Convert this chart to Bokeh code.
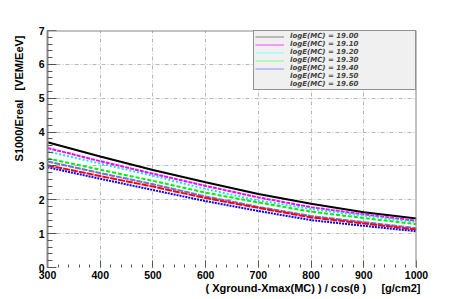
from bokeh.plotting import figure
from bokeh.models import FixedTicker, Legend, LegendItem, Range1d, Span, Title
from bokeh.embed import file_html
from bokeh.resources import INLINE

NB = "\u00a0"

# ---- data ----
xvals = [300, 400, 500, 600, 700, 800, 900, 1000]
s_1900 = [3.70, 3.28, 2.88, 2.52, 2.17, 1.88, 1.63, 1.45]
s_1910 = [3.53, 3.14, 2.77, 2.41, 2.07, 1.78, 1.57, 1.38]
s_1920 = [3.43, 3.07, 2.71, 2.32, 1.98, 1.73, 1.53, 1.34]
s_1930 = [3.22, 2.89, 2.56, 2.21, 1.92, 1.65, 1.46, 1.28]
s_1940 = [3.13, 2.79, 2.46, 2.10, 1.79, 1.52, 1.34, 1.16]
s_1950 = [3.02, 2.70, 2.39, 2.05, 1.76, 1.48, 1.30, 1.12]
s_1960 = [2.96, 2.62, 2.29, 1.96, 1.67, 1.40, 1.23, 1.07]
energies = ["19.00", "19.10", "19.20", "19.30", "19.40", "19.50", "19.60"]
x_ticks = [300, 400, 500, 600, 700, 800, 900, 1000]
y_ticks = [0, 1, 2, 3, 4, 5, 6, 7]
x_title = "( Xground-Xmax(MC) ) / cos(\u03b8 )" + NB * 5 + "[g/cm2]"
y_title = "S1000/Ereal" + NB * 3 + "[VEM/EeV]"

series = [s_1900, s_1910, s_1920, s_1930, s_1940, s_1950, s_1960]
colors = ["#000000", "#ff00ff", "#00e8e8", "#00ee00", "#6f6fd8", "#ff0000", "#0000ff"]
dashes = ["solid", "4 1", "2 2", "4 2", "6 1", "7 1", "2 1"]
legend_colors = ["#808080", "#ff40ff", "#80ffff", "#80ff80", "#9090ff", None, None]

FONT = "Liberation Sans"

p = figure(width=463, height=299, output_backend="svg", toolbar_location=None,
           x_range=Range1d(x_ticks[0], x_ticks[-1]), y_range=Range1d(y_ticks[0], y_ticks[-1]),
           min_border_left=46, min_border_right=47, min_border_top=30, min_border_bottom=32)
p.background_fill_color = "white"
p.border_fill_color = "white"
p.outline_line_color = None

# grid
for g in (p.xgrid, p.ygrid):
    g.grid_line_color = "#b8b8b8"
    g.grid_line_dash = "4 2 1 2"
    g.grid_line_width = 1
p.xgrid.ticker = FixedTicker(ticks=x_ticks)
p.ygrid.ticker = FixedTicker(ticks=y_ticks)

# frame top / right borders
p.add_layout(Span(location=y_ticks[-1], dimension="width", line_color="#888888", line_width=2))
p.add_layout(Span(location=x_ticks[-1], dimension="height", line_color="#888888", line_width=2))

# axes
xa = p.xaxis[0]
ya = p.yaxis[0]
xa.ticker = FixedTicker(ticks=x_ticks, minor_ticks=list(range(300, 1001, 20)))
ya.ticker = FixedTicker(ticks=y_ticks, minor_ticks=[i / 5 for i in range(0, 36)])
for ax in (xa, ya):
    ax.major_tick_out = 0
    ax.minor_tick_out = 0
    ax.major_label_text_font = FONT
    ax.major_label_text_font_style = "bold"
    ax.major_label_text_font_size = "10.5px"
    ax.major_label_text_color = "black"
    ax.major_tick_line_color = "#555555"
    ax.minor_tick_line_color = "#555555"
xa.major_tick_in = 7
xa.minor_tick_in = 3
ya.major_tick_in = 9
ya.minor_tick_in = 5
xa.axis_line_color = None
ya.axis_line_color = "#888888"
ya.axis_line_width = 2
xa.major_label_standoff = 3
ya.major_label_standoff = 3

# axis titles, right/top aligned like ROOT
tx = Title(text=x_title, align="right", text_font=FONT, text_font_style="bold",
           text_font_size="11px", text_color="black", standoff=-3, offset=-4)
ty = Title(text=y_title, align="right", text_font=FONT, text_font_style="bold",
           text_font_size="11px", text_color="black", standoff=21, offset=5)
p.add_layout(tx, "below")
p.add_layout(ty, "left")

# curves
for ys, c, d in zip(series, colors, dashes):
    p.line(xvals, ys, line_color=c, line_width=2, line_dash=d)

# legend (thin samples; last two entries have no visible sample)
items = []
for e, lc in zip(energies, legend_colors):
    r = p.line([-100, -50], [-10, -10], line_color=lc if lc else "white",
               line_alpha=1 if lc else 0, line_width=1)
    items.append(LegendItem(label="logE(MC) = " + e, renderers=[r]))
leg = Legend(items=items, location="top_right")
leg.margin = 0
leg.padding = 1
leg.spacing = 0
leg.glyph_width = 29
leg.glyph_height = 7
leg.label_height = 7
leg.label_standoff = 6
leg.label_width = 124
leg.label_text_font = "DejaVu Sans"
leg.label_text_font_style = "bold italic"
leg.label_text_font_size = "7px"
leg.background_fill_color = "#f0f0f0"
leg.background_fill_alpha = 1
leg.border_line_color = "#333333"
leg.border_line_width = 1.5
p.add_layout(leg)

open("out.html", "w").write(file_html(p, INLINE))
